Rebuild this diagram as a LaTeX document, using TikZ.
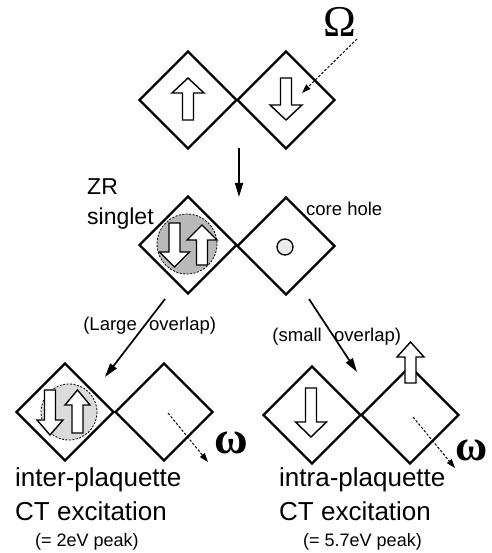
\documentclass[tikz,border=0pt]{standalone}
\usepackage{fontspec}
\setmainfont{Liberation Sans}
\newfontfamily\greekfont{Liberation Serif}
\usetikzlibrary{shapes.geometric,arrows.meta}

% block arrow for a spin: centre (#1,#2), direction #3 (1 up, -1 down),
% head half-width #4, half-length #5
\newcommand\spinarrow[5]{%
  \begin{scope}[shift={(#1,#2)}, yscale=#3]
    \draw[spinline] (0,-#5) -- (#4,-#5+15) -- (5.5,-#5+15) -- (5.5,#5)
      -- (-5.5,#5) -- (-5.5,-#5+15) -- (-#4,-#5+15) -- cycle;
  \end{scope}}

\begin{document}
\begin{tikzpicture}[x=1pt,y=-1pt,
  plaq/.style={draw, shape=diamond, aspect=1, inner sep=0pt,
    minimum width=98pt, minimum height=98pt, line width=2.4pt},
  spinline/.style={draw, fill=white, line width=1.4pt, line join=miter},
  flow/.style={line width=1.7pt, -{Triangle[length=14pt,width=8pt]}},
  photon/.style={line width=1pt, dash pattern=on 2.5pt off 1.8pt,
    -{Triangle[length=9pt,width=6pt]}},
  cloud/.style={draw, line width=0.8pt, dash pattern=on 2pt off 1.5pt},
  lbl/.style={inner sep=0pt, anchor=base west},
  big/.style={lbl, font=\fontsize{26}{26}\selectfont},
  mid/.style={lbl, font=\fontsize{18.5}{18.5}\selectfont},
  small/.style={lbl, font=\fontsize{18}{18}\selectfont},
  greek/.style={inner sep=0pt, font=\greekfont\fontsize{44}{44}\selectfont},
]
\useasboundingbox (0,0) rectangle (491,553);

% ---- initial state: two plaquettes, up and down spin ----
\node[plaq] (a1) at (188,100) {};
\node[plaq] (a2) at (286,100) {};
\spinarrow{188}{99}{1}{16}{21}
\spinarrow{286}{99}{-1}{16}{21}
\node[greek] (Om) at (340,22) {Ω};
\coordinate (omS) at (357,39);
\coordinate (omE) at (302,93);
\draw[photon] (omS) -- (omE);

% ---- intermediate state: ZR singlet + core hole ----
\coordinate (v1) at (239,148);
\coordinate (v2) at (239,197);
\draw[flow] (v1) -- (v2);

\node[plaq] (b1) at (188,245) {};
\node[plaq] (b2) at (286,246) {};
\fill[gray!55] (187,244) circle (30);
\draw[cloud] (187,244) circle (30);
\spinarrow{174.5}{245}{-1}{15}{22}
\spinarrow{202}{245}{1}{15}{20}
\node[draw, circle, fill=gray!15, line width=1.3pt, minimum size=16pt,
  inner sep=0pt] (hole) at (285,247) {};

\node[lbl, font=\fontsize{23}{23}\selectfont] (zr) at (87,195) {ZR};
\node[lbl, font=\fontsize{23}{23}\selectfont] (sing) at (87,224) {singlet};
\node[mid] (core) at (306,215) {core hole};

% ---- branches ----
\coordinate (l1) at (165,299);
\coordinate (l2) at (105,377);
\draw[flow] (l1) -- (l2);
\node[mid, anchor=base east] (lg1) at (137,330) {(Large};
\node[mid] (lg2) at (149,330) {overlap)};

\coordinate (r1) at (309,299);
\coordinate (r2) at (357,372);
\draw[flow] (r1) -- (r2);
\node[mid, anchor=base east] (sm1) at (322,341) {(small};
\node[mid] (sm2) at (334,341) {overlap)};

% ---- final state, inter-plaquette ----
\node[plaq] (c1) at (65,412) {};
\node[plaq] (c2) at (164,412) {};
\fill[gray!28] (69,412) circle (28);
\draw[cloud] (69,412) circle (28);
\spinarrow{50}{412.5}{-1}{13}{22.5}
\spinarrow{77.5}{411.5}{1}{12.5}{21.5}
\coordinate (w1s) at (168,413);
\coordinate (w1e) at (208,462);
\draw[photon] (w1s) -- (w1e);
\node[greek, font=\greekfont\bfseries\fontsize{46}{46}\selectfont] (w1) at (231,443) {ω};

\node[big] (t1) at (15,486) {inter-plaquette};
\node[big] (t2) at (15,520) {CT excitation};
\node[small] (t3) at (35,546) {(= 2eV peak)};

% ---- final state, intra-plaquette ----
\node[plaq] (d1) at (312,415) {};
\node[plaq] (d2) at (410,415) {};
\spinarrow{311}{412.5}{-1}{15.5}{24.5}
\spinarrow{410.5}{362.5}{1}{13.5}{20.5}
\coordinate (w2s) at (413,417);
\coordinate (w2e) at (455,468);
\draw[photon] (w2s) -- (w2e);
\node[greek, font=\greekfont\bfseries\fontsize{44}{44}\selectfont] (w2) at (472,450) {ω};

\node[big] (u1) at (279,486) {intra-plaquette};
\node[big] (u2) at (279,520) {CT excitation};
\node[small] (u3) at (303,546) {(= 5.7eV peak)};
\end{tikzpicture}
\end{document}
